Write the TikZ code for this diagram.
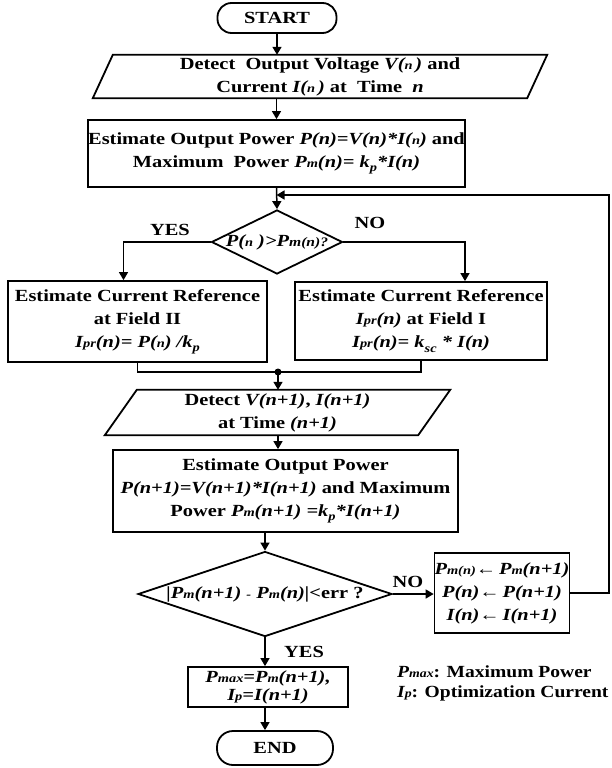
\documentclass[tikz,border=0pt]{standalone}
\usepackage{fontspec}
\setmainfont{Liberation Serif}[FakeStretch=1.2]
\newfontfamily\legfont{Liberation Serif}[FakeStretch=1.15]
\usetikzlibrary{arrows.meta,shapes.geometric,calc}
\newcommand{\smt}[1]{{\fontsize{12}{12}\selectfont #1}}
\newcommand{\lowt}[1]{\raisebox{-0.55ex}{\smt{#1}}}
\tikzset{
  txt/.style={font=\fontsize{17}{23}\selectfont\bfseries, align=center, inner sep=0pt},
  procbox/.style={txt, draw, line width=1.8pt, rectangle},
  termbox/.style={txt, draw, line width=1.8pt, rectangle, rounded corners=14pt},
  parabox/.style={txt, rectangle},
  decbox/.style={draw, line width=1.8pt, diamond, inner sep=0pt},
  conn/.style={line width=1.5pt, -{Triangle[length=8pt,width=9pt]}},
  plain/.style={line width=1.5pt},
  lbl/.style={txt}
}
\begin{document}
\begin{tikzpicture}[x=1pt,y=-1pt]
\useasboundingbox (0,0) rectangle (612,768);
% nodes
\node[termbox, minimum width=119, minimum height=30] (start) at (277,18) {START};
\node[parabox, minimum width=454, minimum height=43] (p1) at (320,76.5)
  {Detect\ \ Output Voltage \textit{V(\smt{n}\,)} and\\Current \textit{I(\smt{n}\,)} at\ \ Time\ \ \textit{n}};
\draw[line width=1.8pt] (p1.south west) -- ($(p1.north west)+(20,0)$) -- (p1.north east) -- ($(p1.south east)+(-20,0)$) -- cycle;
\node[procbox, minimum width=377, minimum height=67] (b2) at (276.5,153.5)
  {Estimate Output Power \textit{P(n)=V(n)*I(\smt{n})} and\\Maximum\ \ Power \textit{P\smt{m}(n)= k\lowt{p}*I(n)}};
\node[decbox, minimum width=131, minimum height=64] (d1) at (277,242) {};
\node[txt] (d1t) at (d1.center) {\textit{P(\smt{n}\ )>P{\fontsize{13}{13}\selectfont m(n)?}}};
\node[lbl] (yes1) at (170,230) {YES};
\node[lbl] (no1) at (370,223) {NO};
\node[procbox, minimum width=259, minimum height=81] (lb) at (137.5,321.5)
  {Estimate Current Reference\\at Field II\\\textit{I\smt{pr}(n)= P(\smt{n}) /k\lowt{p}}};
\node[procbox, minimum width=252, minimum height=78] (rb) at (421,321)
  {Estimate Current Reference\\\textit{I\smt{pr}(n)} at Field I\\\textit{I\smt{pr}(n)= k\lowt{sc} * I(n)}};
\coordinate (jd) at (278,372);
\node[parabox, minimum width=345, minimum height=45] (p2) at (277.5,412.5)
  {Detect \textit{V(n+1)}, \textit{I(n+1)}\\at Time \textit{(n+1)}};
\draw[line width=1.8pt] (p2.south west) -- ($(p2.north west)+(32,0)$) -- (p2.north east) -- ($(p2.south east)+(-32,0)$) -- cycle;
\node[procbox, minimum width=345, minimum height=82] (b3) at (285.5,491)
  {Estimate Output Power\\\textit{P(n+1)=V(n+1)*I(n+1)} and Maximum\\Power \textit{P\smt{m}(n+1) =k\lowt{p}*I(n+1)}};
\node[decbox, minimum width=254, minimum height=85] (d2) at (265,594) {};
\node[txt] (d2t) at (d2.center) {\textit{|P\smt{m}(n+1) \smt{-} P\smt{m}(n)|}<err ?};
\node[procbox, minimum width=132, minimum height=80] (r2) at (502,593)
  {\textit{P\smt{m(n)}←\,P\smt{m}(n+1)}\\\textit{P(n)←\,P(n+1)}\\\textit{I(n)←\,I(n+1)}};
\node[lbl] (no2) at (408,582) {NO};
\node[lbl, anchor=west] (yes2) at (284,652) {YES};
\node[procbox, minimum width=160, minimum height=40, font=\fontsize{17}{18}\selectfont\bfseries] (pm) at (268,687)
  {\textit{P\smt{max}=P\smt{m}(n+1),}\\\textit{I\smt{p}=I(n+1)}};
\node[termbox, minimum width=116, minimum height=34, rounded corners=16pt] (end) at (275,748) {END};
\node[lbl, anchor=west, font=\legfont\fontsize{17}{23}\selectfont\bfseries] (leg1) at (397,672) {\textit{P\smt{max}}: Maximum Power};
\node[lbl, anchor=west, font=\legfont\fontsize{17}{23}\selectfont\bfseries] (leg2) at (397,693) {\textit{I\smt{p}}: Optimization Current};
\coordinate (cr) at (609,195);
% connectors
\draw[conn] (start.south) -- (start.south |- p1.north);
\draw[conn] (b2.north |- p1.south) -- (b2.north);
\draw[conn] (b2.south) -- (d1.north);
\draw[conn] (d1.west) -| ($(lb.north)+(-14,0)$);
\draw[conn] (d1.east) -| ($(rb.north)+(44,0)$);
\draw[plain] (lb.south) |- (jd) -| (rb.south);
\fill (jd) circle (3.5);
\draw[conn] (jd) -- (jd |- p2.north);
\draw[conn] (jd |- p2.south) -- (jd |- b3.north);
\draw[conn] (d2.north |- b3.south) -- (d2.north);
\draw[conn] (d2.east) -- (d2.east -| r2.west);
\draw[conn] (d2.south) -- (d2.south |- pm.north);
\draw[conn] (d2.south |- pm.south) -- (d2.south |- end.north);
\draw[conn] (r2.east) -| (cr) -- (b2.south |- cr);
\end{tikzpicture}
\end{document}
